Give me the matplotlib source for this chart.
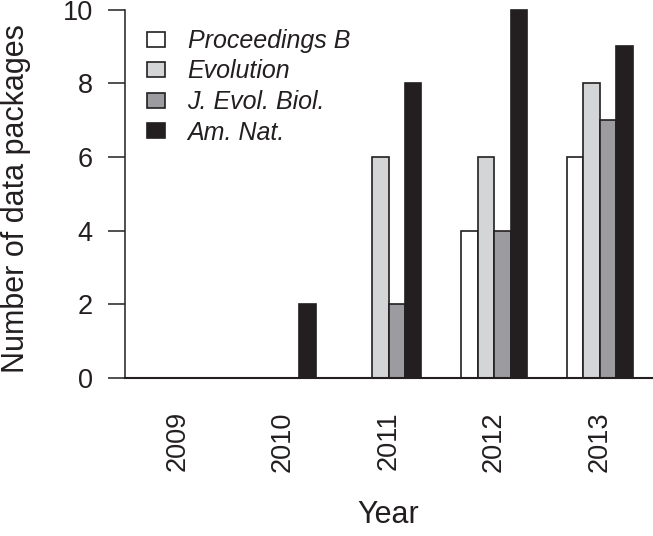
import matplotlib
matplotlib.use("Agg")
import matplotlib.pyplot as plt
import numpy as np

years = ["2009", "2010", "2011", "2012", "2013"]
journals = ["Proceedings B", "Evolution", "J. Evol. Biol.", "Am. Nat."]
proc_b = [0, 0, 0, 4, 6]
evolution = [0, 0, 6, 6, 8]
jeb = [0, 0, 2, 4, 7]
amnat = [0, 2, 8, 10, 9]
series = [proc_b, evolution, jeb, amnat]
colors = ["#ffffff", "#d4d5d7", "#9c9ca0", "#231f20"]

ink = "#231f20"
plt.rcParams['font.family'] = ['Liberation Sans', 'DejaVu Sans']

W, H = 653, 536
fig = plt.figure(figsize=(W / 100, H / 100), dpi=100)
ax = fig.add_axes([125 / W, (H - 378) / H, (652 - 125) / W, 378 / H])

gap = 2.4
period = len(series) + gap
for j, vals in enumerate(series):
    xs = np.arange(len(years)) * period + gap + j
    ax.bar(xs, vals, width=1.0, align='edge', color=colors[j], edgecolor=ink,
           linewidth=1.2, label=journals[j], zorder=2)

ax.set_xlim(1.22, 33.18)
ax.set_ylim(0, 10.26)

for s in ["top", "right", "bottom"]:
    ax.spines[s].set_visible(False)
ax.spines["left"].set_bounds(0, 10)
ax.spines["left"].set_color(ink)
ax.spines["left"].set_linewidth(1.1)
ax.axhline(0, color=ink, linewidth=1.5, zorder=3, clip_on=False)

ax.set_yticks([0, 2, 4, 6, 8, 10])
ax.tick_params(axis='y', length=12.2, width=1.1, color=ink, labelcolor=ink,
               labelsize=19.5, pad=11)
centers = np.arange(len(years)) * period + gap + len(series) / 2
ax.set_xticks(centers)
ax.set_xticklabels(years, rotation=90, fontsize=19.5, color=ink, va='top')
ax.tick_params(axis='x', length=0, pad=24)

ax.set_ylabel("Number of data packages", fontsize=22, color=ink)
ax.yaxis.set_label_coords((31 - 125) / 527, 0.476)
ax.set_xlabel("Year", fontsize=22, color=ink)
ax.xaxis.set_label_coords(0.5, (378 - 500) / 378)

leg = ax.legend(loc='upper left', bbox_to_anchor=((147 - 125) / 527, (378 - 29) / 378),
                frameon=False, borderaxespad=0, borderpad=0,
                fontsize=18, handlelength=0.72, handleheight=0.56,
                labelspacing=0.26, handletextpad=0.9)
for t in leg.get_texts():
    t.set_fontstyle('italic')
    t.set_color(ink)

fig.savefig("out.png", dpi=100)
